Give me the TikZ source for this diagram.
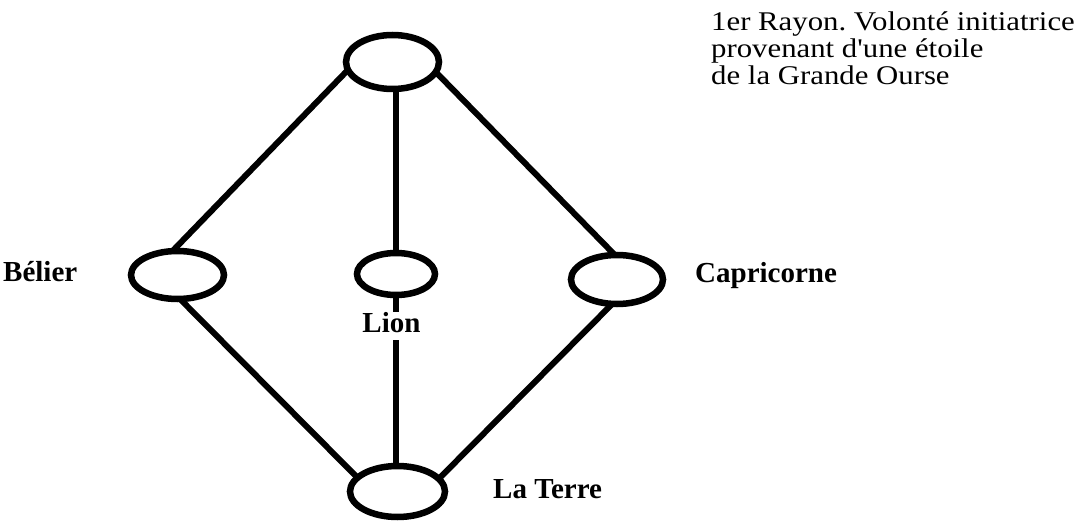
\documentclass[tikz,border=0pt]{standalone}
\usepackage{fontspec}
\setmainfont{Liberation Serif}
\usetikzlibrary{shapes.geometric}
\begin{document}
\frenchspacing
\begin{tikzpicture}[x=1pt,y=-1pt,
  ring/.style={draw=black,line width=6.5pt,ellipse,inner sep=0pt,outer sep=0pt},
  link/.style={draw=black,line width=6pt},
  lab/.style={inner sep=0pt,font=\fontsize{29}{32}\selectfont\bfseries}]
\fill[white] (0,0) rectangle (1090,521);
\useasboundingbox (0,0) rectangle (1090,521);
% ellipses
\node[ring,minimum width=93pt,minimum height=54pt] (top) at (392.5,62) {};
\node[ring,minimum width=93pt,minimum height=48pt] (belier) at (177.5,275) {};
\node[ring,minimum width=78pt,minimum height=42pt] (lion) at (396,274) {};
\node[ring,minimum width=92pt,minimum height=49pt] (capri) at (617,279.5) {};
\node[ring,minimum width=95pt,minimum height=51pt] (terre) at (397.5,491.5) {};
% connectors
\draw[link] (top.190) -- (belier.102);
\draw[link] (top.347) -- (capri.95);
\draw[link] (lion.north |- top.south) -- (lion.north);
\draw[link] (belier.276) -- (terre.161);
\draw[link] (capri.259) -- (terre.17);
\draw[link] (lion.south) -- (lion.south |- terre.north);
% labels
\node[lab,anchor=base west] (lbelier) at (3,282) {Bélier};
\node[lab,anchor=base west] (lcapri) at (695,283) {Capricorne};
\node[lab,anchor=base west] (lterre) at (493,498) {La Terre};
\node[lab,anchor=base,fill=white,text height=21pt,text depth=7pt] (llion) at (391.5,333) {Lion};
\node[inner sep=0pt,anchor=north west] (ray) at (711,12)
  {\scalebox{1.14}[1]{\fontsize{27}{26.5}\selectfont
   \begin{tabular}{@{}l@{}}1er Rayon. Volonté initiatrice\\ provenant d\textquotesingle une étoile\\ de la Grande Ourse\end{tabular}}};
\end{tikzpicture}
\end{document}
